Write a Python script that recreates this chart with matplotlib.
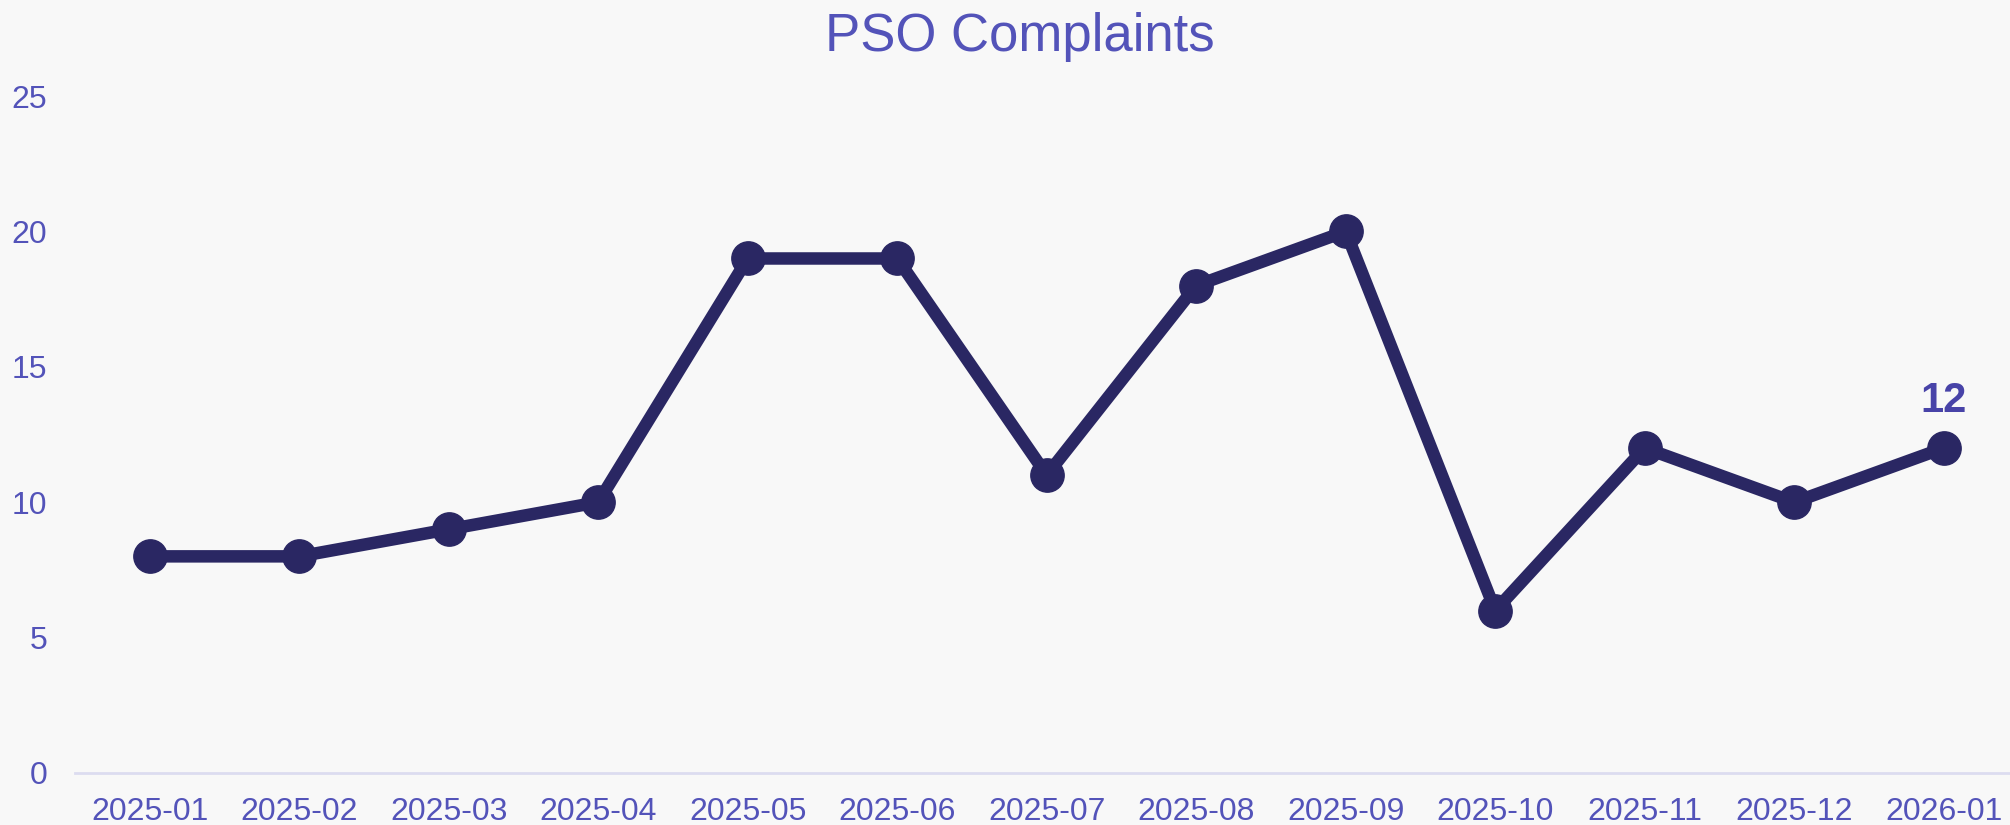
import matplotlib.pyplot as plt

months = ['2025-01', '2025-02', '2025-03', '2025-04', '2025-05', '2025-06', '2025-07',
          '2025-08', '2025-09', '2025-10', '2025-11', '2025-12', '2026-01']
complaints = [8, 8, 9, 10, 19, 19, 11, 18, 20, 6, 12, 10, 12]
y_ticks = [0, 5, 10, 15, 20, 25]

bg = '#f8f8f8'
line_col = '#2a2763'
text_col = '#5353b9'

plt.rcParams['font.family'] = ['Liberation Sans', 'DejaVu Sans']

W, H = 2010, 825
fig = plt.figure(figsize=(W / 100, H / 100), dpi=100, facecolor=bg)
ax = fig.add_axes([75 / W, 52 / H, 1943.5 / W, 677 / H], facecolor=bg)

x = list(range(len(months)))
ax.plot(x, complaints, color=line_col, linewidth=9, marker='o', markersize=24,
        markerfacecolor=line_col, markeredgecolor=line_col, clip_on=False,
        solid_joinstyle='round', zorder=3)

ax.annotate(str(complaints[-1]), (x[-1], complaints[-1]), xytext=(0, 26),
            textcoords='offset points', ha='center', va='baseline',
            fontsize=30, fontweight='bold', color='#4843a8')

ax.set_xlim(-0.5, len(months) - 0.5)
ax.set_ylim(0, 25)
ax.set_xticks(x)
ax.set_xticklabels(months)
ax.set_yticks(y_ticks)

ax.tick_params(axis='both', length=0, labelcolor=text_col)
ax.tick_params(axis='y', pad=20, labelsize=23)
ax.tick_params(axis='x', pad=17, labelsize=23)

for s in ['top', 'right', 'left']:
    ax.spines[s].set_visible(False)
ax.spines['bottom'].set_color('#dcdcf0')
ax.spines['bottom'].set_linewidth(2)

fig.text(1020 / W, 1 - 51 / H, 'PSO Complaints', ha='center', va='baseline',
         fontsize=38, color=text_col)

fig.savefig('out.png', dpi=100, facecolor=bg)
